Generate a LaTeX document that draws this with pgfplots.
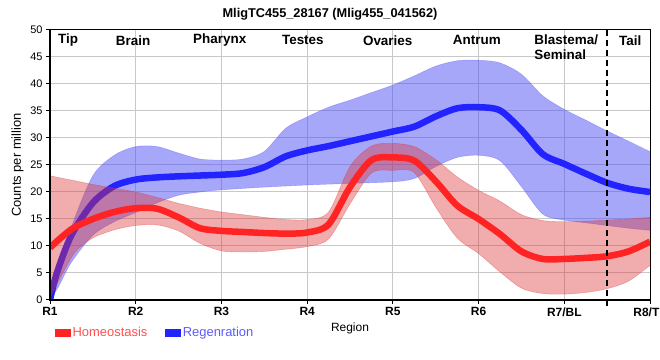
\documentclass[border=0pt]{standalone}
\usepackage{fontspec}
\setmainfont{Liberation Sans}
\usepackage{pgfplots}
\pgfplotsset{compat=1.18}
\definecolor{hline}{RGB}{255,35,35}
\definecolor{rline}{RGB}{35,35,255}
\definecolor{hband}{RGB}{220,50,50}
\definecolor{rband}{RGB}{80,80,245}
\definecolor{htext}{RGB}{255,80,80}
\definecolor{rtext}{RGB}{90,90,255}
\definecolor{gridc}{RGB}{200,200,200}
\begin{document}
\begin{tikzpicture}
\begin{axis}[
  at={(50bp,60bp)}, anchor=south west,
  scale only axis, width=600bp, height=270bp,
  xmin=1, xmax=8, ymin=0, ymax=50,
  xtick={1,...,8}, xticklabels={R1,R2,R3,R4,R5,R6,R7/BL,R8/TL},
  ytick={0,5,...,50},
  xtick pos=left, ytick pos=left,
  grid=major, grid style={gridc, line width=1bp},
  axis line style={black, line width=1bp},
  tick style={black, line width=1bp},
  tick align=outside, major tick length=4bp,
  /pgf/number format/assume math mode=true,
  yticklabel style={font=\fontsize{11}{12}\selectfont},
  xticklabel style={font=\bfseries\fontsize{12}{13}\selectfont},
  ylabel={Counts per million}, ylabel style={font=\fontsize{13}{14}\selectfont},
  xlabel={Region}, xlabel style={font=\fontsize{12}{13}\selectfont},
  title={\textbf{MligTC455\_28167 (Mlig455\_041562)}},
  title style={font=\fontsize{12.8}{14}\selectfont, xshift=-20bp},
  legend style={at={(0.0083,-0.12)}, anchor=west, draw=none, fill=none,
    legend columns=2, font=\fontsize{13}{15}\selectfont, inner sep=0pt,
    /tikz/every even column/.append style={column sep=16bp}},
  legend image code/.code={\fill (0bp,-3.5bp) rectangle (15bp,3.5bp);},
  legend cell align=left,
  smooth,
]
\addlegendimage{color=hline}
\addlegendentry{\textcolor{htext}{Homeostasis}}
\addlegendimage{color=rline}
\addlegendentry{\textcolor{rtext}{Regenration}}

% Regeneration band (upper edge, then lower edge reversed)
\addplot[fill=rband, fill opacity=0.5, draw=none, forget plot] coordinates {
(1,0)(1.1,5)(1.25,13.5)(1.5,23)(1.75,26.8)(2,28.4)(2.25,28.4)(2.5,27.2)(2.75,26.1)(3,25.9)(3.25,26.1)(3.5,27.5)(3.75,31.8)(4,33.9)(4.25,35.7)(4.5,37)(4.75,38.4)(5,39.8)(5.25,41.5)(5.5,43.3)(5.75,44.3)(6,44.4)(6.25,43.9)(6.5,41.8)(6.75,37.8)(7,35.3)(7.25,33.3)(7.5,31.3)(7.75,29.4)(8,27.5)
(8.3,26.2)(8.3,12.5)
(8,12.9)(7.75,13.3)(7.5,13.8)(7.25,14.3)(7,14.8)(6.75,15.9)(6.5,21)(6.25,25.8)(6,26.8)(5.75,26.4)(5.5,24.7)(5.25,22.5)(5,21.9)(4.5,21.6)(4,21.3)(3.5,20.9)(3,20.4)(2.75,20)(2.5,19.4)(2.25,18)(2,16.2)(1.75,14.5)(1.5,12)(1.25,7)(1.1,2.5)(1,0)};
\addplot[draw=rband, draw opacity=0.35, line width=0.6bp, forget plot] coordinates {
(1,0)(1.1,5)(1.25,13.5)(1.5,23)(1.75,26.8)(2,28.4)(2.25,28.4)(2.5,27.2)(2.75,26.1)(3,25.9)(3.25,26.1)(3.5,27.5)(3.75,31.8)(4,33.9)(4.25,35.7)(4.5,37)(4.75,38.4)(5,39.8)(5.25,41.5)(5.5,43.3)(5.75,44.3)(6,44.4)(6.25,43.9)(6.5,41.8)(6.75,37.8)(7,35.3)(7.25,33.3)(7.5,31.3)(7.75,29.4)(8,27.5)};
\addplot[draw=rband, draw opacity=0.35, line width=0.6bp, forget plot] coordinates {
(1,0)(1.1,2.5)(1.25,7)(1.5,12)(1.75,14.5)(2,16.2)(2.25,18)(2.5,19.4)(2.75,20)(3,20.4)(3.5,20.9)(4,21.3)(4.5,21.6)(5,21.9)(5.25,22.5)(5.5,24.7)(5.75,26.4)(6,26.8)(6.25,25.8)(6.5,21)(6.75,15.9)(7,14.8)(7.25,14.3)(7.5,13.8)(7.75,13.3)(8,12.9)};
% Regeneration mean
\addplot[rline, line width=6.5bp, forget plot] coordinates {
(1,0)(1.08,5)(1.25,12)(1.5,18)(1.75,21.1)(2,22.3)(2.25,22.7)(2.5,22.9)(2.75,23.05)(3,23.2)(3.25,23.5)(3.5,24.6)(3.75,26.6)(4,27.7)(4.25,28.5)(4.5,29.4)(4.75,30.3)(5,31.2)(5.25,32.1)(5.5,34)(5.75,35.5)(6,35.7)(6.25,35.1)(6.5,31.5)(6.75,27)(7,25.2)(7.25,23.4)(7.5,21.7)(7.75,20.6)(8,20)};

% Homeostasis band (upper edge, then lower edge reversed)
\addplot[fill=hband, fill opacity=0.4, draw=none, forget plot] coordinates {
(1,23)(1.25,22.2)(1.5,21.4)(1.75,20.7)(2,20)(2.25,19)(2.5,17.9)(2.75,17)(3,16.3)(3.25,15.8)(3.5,15.3)(3.75,14.9)(4,14.9)(4.25,16.3)(4.5,24.7)(4.75,28.5)(5,29)(5.25,28.4)(5.5,26)(5.75,22.8)(6,20.3)(6.25,18.3)(6.5,15.8)(6.75,14.7)(7,14.5)(7.25,14.6)(7.5,14.8)(7.75,15)(8,15.3)
(8.3,15.6)(8.3,9.5)
(8,6.4)(7.75,3.5)(7.5,2.1)(7.25,1.4)(7,1.1)(6.75,1.2)(6.5,2.2)(6.25,5.2)(6,8.6)(5.75,11.5)(5.5,17.2)(5.25,23.6)(5,24)(4.75,23.5)(4.5,17.8)(4.25,11.3)(4,9.9)(3.75,9.4)(3.5,9)(3.25,8.9)(3,9.1)(2.75,10.5)(2.5,12.8)(2.25,13.9)(2,13.8)(1.75,13)(1.5,11.5)(1.3,9)(1.15,5)(1,0.5)};
\addplot[draw=hband, draw opacity=0.35, line width=0.6bp, forget plot] coordinates {
(1,23)(1.25,22.2)(1.5,21.4)(1.75,20.7)(2,20)(2.25,19)(2.5,17.9)(2.75,17)(3,16.3)(3.25,15.8)(3.5,15.3)(3.75,14.9)(4,14.9)(4.25,16.3)(4.5,24.7)(4.75,28.5)(5,29)(5.25,28.4)(5.5,26)(5.75,22.8)(6,20.3)(6.25,18.3)(6.5,15.8)(6.75,14.7)(7,14.5)(7.25,14.6)(7.5,14.8)(7.75,15)(8,15.3)};
\addplot[draw=hband, draw opacity=0.35, line width=0.6bp, forget plot] coordinates {
(1,0.5)(1.15,5)(1.3,9)(1.5,11.5)(1.75,13)(2,13.8)(2.25,13.9)(2.5,12.8)(2.75,10.5)(3,9.1)(3.25,8.9)(3.5,9)(3.75,9.4)(4,9.9)(4.25,11.3)(4.5,17.8)(4.75,23.5)(5,24)(5.25,23.6)(5.5,17.2)(5.75,11.5)(6,8.6)(6.25,5.2)(6.5,2.2)(6.75,1.2)(7,1.1)(7.25,1.4)(7.5,2.1)(7.75,3.5)(8,6.4)};
% Homeostasis mean
\addplot[hline, line width=6.5bp, forget plot] coordinates {
(1,9.7)(1.25,13.1)(1.5,15)(1.75,16.3)(2,17)(2.25,16.9)(2.5,15.3)(2.75,13.3)(3,12.8)(3.25,12.6)(3.5,12.4)(3.75,12.3)(4,12.5)(4.25,14)(4.5,20.9)(4.75,25.9)(5,26.4)(5.25,25.8)(5.5,22)(5.75,17.5)(6,15)(6.25,12.2)(6.5,9)(6.75,7.6)(7,7.6)(7.25,7.8)(7.5,8.1)(7.75,9)(8,10.8)};

\coordinate (dtop) at (axis cs:7.5,50);
\coordinate (dbot) at (axis cs:7.5,0);
\begin{scope}[font=\bfseries\fontsize{13.5}{15}\selectfont]
\node at (axis cs:1.21,48.1) {Tip};
\node at (axis cs:1.97,48.1) {Brain};
\node at (axis cs:2.98,48.1) {Pharynx};
\node at (axis cs:3.95,48.1) {Testes};
\node at (axis cs:4.94,48.1) {Ovaries};
\node at (axis cs:5.98,48.1) {Antrum};
\node[anchor=west, align=left, inner xsep=0pt] at (axis cs:6.65,46.85) {Blastema/\\Seminal};
\node at (axis cs:7.77,48.1) {Tail};
\end{scope}
\end{axis}
\draw[line width=2.5bp, dash pattern=on 6bp off 4bp] (dtop) -- ([yshift=-7bp]dbot);
\draw[line width=2.6bp] ([yshift=0.5bp]current axis.north west) -- (current axis.south west) -- (current axis.south east);
\pgfresetboundingbox
\useasboundingbox (0,0) rectangle (660bp,360bp);
\end{tikzpicture}
\end{document}
